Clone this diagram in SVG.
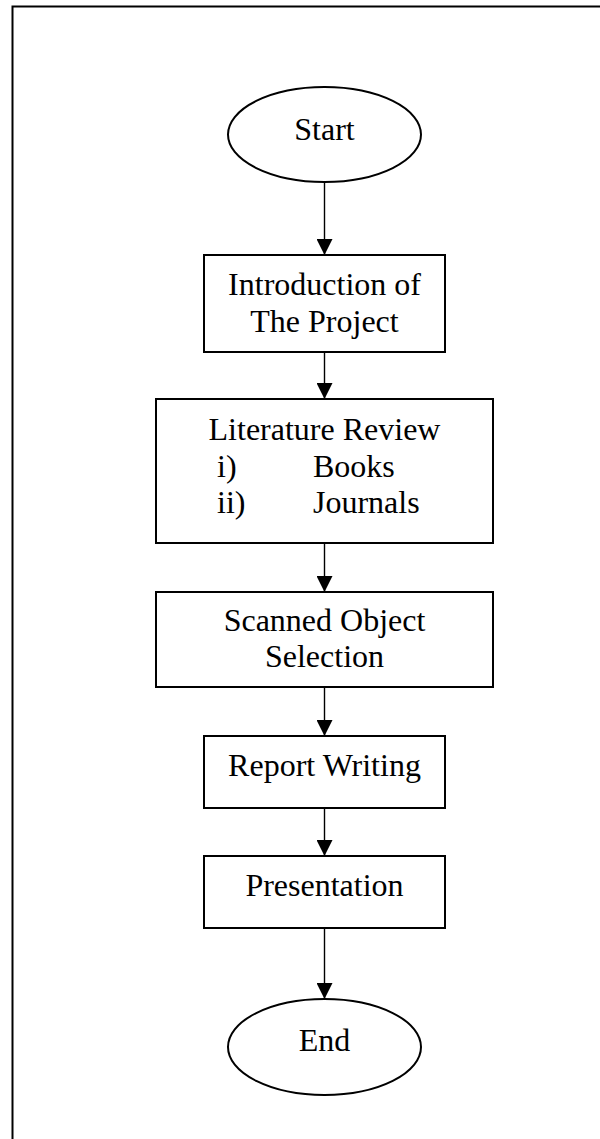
<svg xmlns="http://www.w3.org/2000/svg" width="600" height="1139" viewBox="0 0 600 1139">
<style>
.shape{fill:#fff;stroke:#000;stroke-width:2}
.lbl{font-family:"Liberation Serif","Times New Roman",serif;font-size:32px;fill:#000}
.c{text-anchor:middle}
.conn line{stroke:#000;stroke-width:1.4}
</style>
<defs>
<marker id="ah" markerUnits="userSpaceOnUse" markerWidth="16" markerHeight="16" viewBox="0 0 15 15" refX="15" refY="7.5" orient="auto">
<path d="M0,0 L15,7.5 L0,15 z" fill="#000"/>
</marker>
</defs>
<rect width="600" height="1139" fill="#fff"/>
<path d="M12.5,1139 V6.5 H600" fill="none" stroke="#000" stroke-width="2"/>
<g id="start">
<ellipse class="shape" cx="324.5" cy="134.5" rx="96.5" ry="47.5"/>
<text class="lbl c" x="324.5" y="140">Start</text>
</g>
<g id="intro">
<rect class="shape" x="204" y="255" width="241" height="97"/>
<text class="lbl c" x="324.5" y="295">Introduction of</text>
<text class="lbl c" x="324.5" y="332">The Project</text>
</g>
<g id="literature">
<rect class="shape" x="156" y="399" width="337" height="144"/>
<text class="lbl c" x="324.5" y="440">Literature Review</text>
<text class="lbl" x="217" y="477">i)</text>
<text class="lbl" x="313" y="477">Books</text>
<text class="lbl" x="217" y="513">ii)</text>
<text class="lbl" x="313" y="513">Journals</text>
</g>
<g id="scanned">
<rect class="shape" x="156" y="592" width="337" height="95"/>
<text class="lbl c" x="324.5" y="631">Scanned Object</text>
<text class="lbl c" x="324.5" y="667">Selection</text>
</g>
<g id="report">
<rect class="shape" x="204" y="736" width="241" height="72"/>
<text class="lbl c" x="324.5" y="776">Report Writing</text>
</g>
<g id="presentation">
<rect class="shape" x="204" y="856" width="241" height="72"/>
<text class="lbl c" x="324.5" y="896">Presentation</text>
</g>
<g id="end">
<ellipse class="shape" cx="324.5" cy="1047" rx="96.5" ry="48"/>
<text class="lbl c" x="324.5" y="1051">End</text>
</g>
<g id="connectors" class="conn">
<line x1="324.5" y1="182" x2="324.5" y2="255" marker-end="url(#ah)"/>
<line x1="324.5" y1="352" x2="324.5" y2="399" marker-end="url(#ah)"/>
<line x1="324.5" y1="543" x2="324.5" y2="592" marker-end="url(#ah)"/>
<line x1="324.5" y1="687" x2="324.5" y2="736" marker-end="url(#ah)"/>
<line x1="324.5" y1="808" x2="324.5" y2="856" marker-end="url(#ah)"/>
<line x1="324.5" y1="928" x2="324.5" y2="999" marker-end="url(#ah)"/>
</g>
</svg>
